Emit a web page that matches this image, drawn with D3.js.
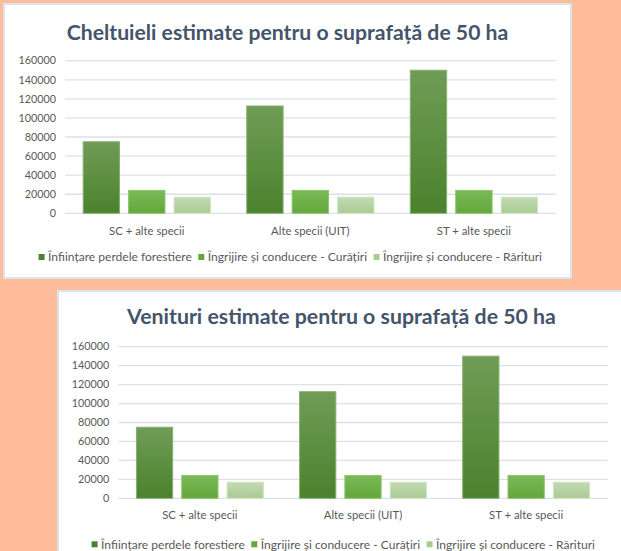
<!DOCTYPE html>
<html>
<head>
<meta charset="utf-8">
<script src="https://cdn.jsdelivr.net/npm/d3@7"></script>
<style>
  html, body { margin: 0; padding: 0; background: #FFBD9B; }
  svg { display: block; }
</style>
</head>
<body>
<div id="chart"></div>
<script>
// data
const categories = ['SC + alte specii', 'Alte specii (UIT)', 'ST + alte specii'];
const seriesNames = [
    'Înființare perdele forestiere',
    'Îngrijire și conducere - Curățiri',
    'Îngrijire și conducere - Rărituri'
];
const cheltuieli = [
    [75000, 24000, 17000],
    [112500, 24000, 17000],
    [150000, 24000, 17000]
];
const venituri = [
    [75000, 24000, 17000],
    [112500, 24000, 17000],
    [150000, 24000, 17000]
];
const yTicks = [0, 20000, 40000, 60000, 80000, 100000, 120000, 140000, 160000];

const W = 621, H = 551;
const FONT = 'Lato, "Open Sans", "Noto Sans", sans-serif';

// series gradients (top, bottom)
const seriesColors = [
    ['#6F9C56', '#4B822D'],
    ['#7BB956', '#62A83B'],
    ['#C2DBB2', '#A9CA93']
];
const seriesStroke = ['#86B070', '#8CC46C', '#D2E5C6'];

const svg = d3.select('#chart')
    .append('svg')
    .attr('width', W)
    .attr('height', H);

svg.append('rect')
    .attr('width', W)
    .attr('height', H)
    .attr('fill', '#FFBD9B');

const defs = svg.append('defs');
seriesColors.forEach((c, i) => {
    const grad = defs.append('linearGradient')
        .attr('id', 'grad' + i)
        .attr('x1', 0).attr('y1', 0)
        .attr('x2', 0).attr('y2', 1);
    grad.append('stop').attr('offset', '0%').attr('stop-color', c[0]);
    grad.append('stop').attr('offset', '100%').attr('stop-color', c[1]);
});

// shrink/grow font size so the text is about targetWidth wide
function fitText(sel, targetWidth) {
    const fs = parseFloat(sel.style('font-size'));
    const w = sel.node().getComputedTextLength();
    if (w > 0) sel.style('font-size', (fs * targetWidth / w) + 'px');
    return sel;
}

function drawChart(opt) {
    const g = svg.append('g')
        .attr('transform', `translate(${opt.x},${opt.y})`);

    // panel
    g.append('rect')
        .attr('x', 1).attr('y', 1)
        .attr('width', opt.w - 2)
        .attr('height', opt.h - 2)
        .attr('fill', '#fff')
        .attr('stroke', '#DCE3EC')
        .attr('stroke-width', 2);

    // title
    const title = g.append('text')
        .attr('x', opt.w / 2)
        .attr('y', opt.titleY)
        .attr('text-anchor', 'middle')
        .style('font-family', FONT)
        .style('font-weight', 'bold')
        .style('font-size', '20px')
        .style('fill', '#44546A')
        .text(opt.title);
    fitText(title, opt.titleW);

    const y = d3.scaleLinear()
        .domain([0, 160000])
        .range([opt.plotBottom, opt.plotTop]);

    const x0 = d3.scaleBand()
        .domain(categories)
        .range([opt.plotLeft, opt.plotRight])
        .padding(0);

    const x1 = d3.scaleBand()
        .domain(d3.range(seriesNames.length))
        .range([0, x0.bandwidth()])
        .paddingInner(0.2)
        .paddingOuter(0.4);

    // gridlines
    g.append('g')
        .selectAll('line')
        .data(yTicks)
        .enter()
        .append('line')
        .attr('x1', opt.plotLeft)
        .attr('x2', opt.plotRight)
        .attr('y1', d => y(d))
        .attr('y2', d => y(d))
        .attr('stroke', '#DCE0E8')
        .attr('stroke-width', 1.3);

    // y labels
    const yl = g.append('g')
        .selectAll('text')
        .data(yTicks)
        .enter()
        .append('text')
        .attr('x', opt.plotLeft - 9)
        .attr('y', d => y(d))
        .attr('dy', '0.35em')
        .attr('text-anchor', 'end')
        .style('font-family', FONT)
        .style('font-size', '12px')
        .style('fill', '#595959')
        .text(d => d);
    // size from the widest label
    const big = yl.filter(d => d === 160000);
    const fs = parseFloat(big.style('font-size'));
    const ratio = 37.5 / big.node().getComputedTextLength();
    yl.style('font-size', (fs * ratio) + 'px');

    // bars
    const groups = g.append('g')
        .selectAll('g')
        .data(opt.values)
        .enter()
        .append('g')
        .attr('transform', (d, i) => `translate(${x0(categories[i])},0)`);

    groups.selectAll('rect')
        .data(d => d)
        .enter()
        .append('rect')
        .attr('x', (d, j) => x1(j))
        .attr('width', x1.bandwidth())
        .attr('y', d => y(d))
        .attr('height', d => opt.plotBottom - y(d))
        .attr('fill', (d, j) => `url(#grad${j})`)
        .attr('stroke', (d, j) => seriesStroke[j])
        .attr('stroke-width', 1);

    // category labels
    const cl = g.append('g')
        .selectAll('text')
        .data(categories)
        .enter()
        .append('text')
        .attr('x', d => x0(d) + x0.bandwidth() / 2)
        .attr('y', opt.catY)
        .attr('dy', '0.35em')
        .attr('text-anchor', 'middle')
        .style('font-family', FONT)
        .style('font-size', '12px')
        .style('fill', '#595959')
        .text(d => d);
    const c0 = cl.filter((d, i) => i === 0);
    const cr = 75.5 / c0.node().getComputedTextLength();
    cl.style('font-size', (12 * cr) + 'px');

    // legend
    const leg = g.append('g');
    const items = leg.selectAll('g')
        .data(seriesNames)
        .enter()
        .append('g');
    items.append('rect')
        .attr('width', 6)
        .attr('height', 6)
        .attr('y', -3)
        .attr('fill', (d, i) => seriesColors[i][1]);
    const lt = items.append('text')
        .attr('x', 9.5)
        .attr('dy', '0.35em')
        .style('font-family', FONT)
        .style('font-size', '12px')
        .style('fill', '#595959')
        .text(d => d);
    const l0 = lt.filter((d, i) => i === 0);
    const lr = 144 / l0.node().getComputedTextLength();
    lt.style('font-size', (12 * lr) + 'px');

    let cx = 0;
    const widths = [];
    lt.each(function() { widths.push(this.getComputedTextLength()); });
    items.attr('transform', (d, i) => {
        const pos = cx;
        cx += 9.5 + widths[i] + 6.5;
        return `translate(${pos},0)`;
    });
    const total = cx - 6.5;
    leg.attr('transform', `translate(${opt.legCx - total / 2},${opt.legY})`);
}

drawChart({
    x: 3, y: 3, w: 569, h: 276,
    title: 'Cheltuieli estimate pentru o suprafață de 50 ha',
    titleY: 37, titleW: 442,
    values: cheltuieli,
    plotLeft: 62, plotRight: 552.7, plotTop: 57.7, plotBottom: 210.3,
    catY: 227.7, legY: 254, legCx: 287.3
});

drawChart({
    x: 57, y: 290, w: 569, h: 276,
    title: 'Venituri estimate pentru o suprafață de 50 ha',
    titleY: 34, titleW: 429,
    values: venituri,
    plotLeft: 61.3, plotRight: 550.7, plotTop: 56.7, plotBottom: 208.3,
    catY: 225, legY: 254.3, legCx: 286.3
});
</script>
</body>
</html>
